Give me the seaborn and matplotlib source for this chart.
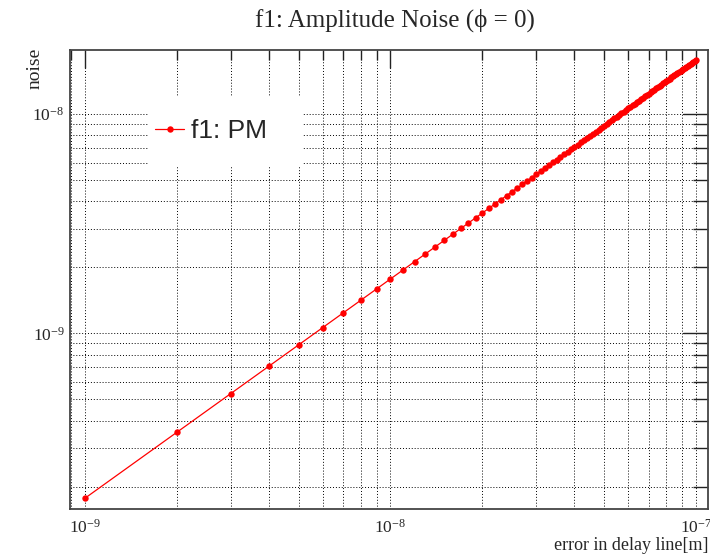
import matplotlib
matplotlib.use("Agg")
import matplotlib.pyplot as plt
import matplotlib.ticker as mticker
from matplotlib.patches import Rectangle
import seaborn as sns
import pandas as pd

# delay-line error (units of 1e-9 m)
x_nm = [1, 2, 3, 4, 5, 6, 7, 8, 9, 10,
        11, 12, 13, 14, 15, 16, 17, 18, 19, 20,
        21, 22, 23, 24, 25, 26, 27, 28, 29, 30,
        31, 32, 33, 34, 35, 36, 37, 38, 39, 40,
        41, 42, 43, 44, 45, 46, 47, 48, 49, 50,
        51, 52, 53, 54, 55, 56, 57, 58, 59, 60,
        61, 62, 63, 64, 65, 66, 67, 68, 69, 70,
        71, 72, 73, 74, 75, 76, 77, 78, 79, 80,
        81, 82, 83, 84, 85, 86, 87, 88, 89, 90,
        91, 92, 93, 94, 95, 96, 97, 98, 99, 100]
# noise (units of 1e-10)
noise_e10 = [1.77, 3.54, 5.31, 7.08, 8.85, 10.62, 12.39, 14.16, 15.93, 17.7,
             19.47, 21.24, 23.01, 24.78, 26.55, 28.32, 30.09, 31.86, 33.63, 35.4,
             37.17, 38.94, 40.71, 42.48, 44.25, 46.02, 47.79, 49.56, 51.33, 53.1,
             54.87, 56.64, 58.41, 60.18, 61.95, 63.72, 65.49, 67.26, 69.03, 70.8,
             72.57, 74.34, 76.11, 77.88, 79.65, 81.42, 83.19, 84.96, 86.73, 88.5,
             90.27, 92.04, 93.81, 95.58, 97.35, 99.12, 100.89, 102.66, 104.43, 106.2,
             107.97, 109.74, 111.51, 113.28, 115.05, 116.82, 118.59, 120.36, 122.13, 123.9,
             125.67, 127.44, 129.21, 130.98, 132.75, 134.52, 136.29, 138.06, 139.83, 141.6,
             143.37, 145.14, 146.91, 148.68, 150.45, 152.22, 153.99, 155.76, 157.53, 159.3,
             161.07, 162.84, 164.61, 166.38, 168.15, 169.92, 171.69, 173.46, 175.23, 177.3]

x_major = [1e-9, 1e-8, 1e-7]
y_major = [1e-9, 1e-8]

title = "f1: Amplitude Noise (\u03d5 = 0)"
xlabel = "error in delay line[m]"
ylabel = "noise"
series_name = "f1: PM"

df = pd.DataFrame({"x": [v * 1e-9 for v in x_nm],
                   "y": [v * 1e-10 for v in noise_e10]})

sns.set_style("white")
plt.rcParams["font.family"] = ["Liberation Serif", "DejaVu Serif"]
plt.rcParams["mathtext.fontset"] = "stix"

fig = plt.figure(figsize=(7.10, 5.57), dpi=100)
ax = fig.add_axes([70 / 710, 1 - 509 / 557, 638 / 710, 459 / 557])

sns.lineplot(data=df, x="x", y="y", ax=ax, color="red", linewidth=0.9,
             marker="o", markersize=4.6, markeredgewidth=0, label=series_name,
             zorder=3)

ax.set_xscale("log")
ax.set_yscale("log")
xlim = (8.93e-10, 1.095e-7)
ylim = (1.58e-10, 1.96e-8)
ax.set_xlim(*xlim)
ax.set_ylim(*ylim)

def minors(lo, hi):
    out = []
    for e in range(-11, -5):
        for m in range(2, 10):
            v = m * 10.0 ** e
            if lo < v < hi:
                out.append(v)
    return out

ax.xaxis.set_major_locator(mticker.FixedLocator(x_major))
ax.xaxis.set_minor_locator(mticker.FixedLocator(minors(*xlim)))
ax.yaxis.set_major_locator(mticker.FixedLocator(y_major))
ax.yaxis.set_minor_locator(mticker.FixedLocator(minors(*ylim)))
ax.xaxis.set_minor_formatter(mticker.NullFormatter())
ax.yaxis.set_minor_formatter(mticker.NullFormatter())
ax.xaxis.set_major_formatter(mticker.LogFormatterSciNotation())
ax.yaxis.set_major_formatter(mticker.LogFormatterSciNotation())

ax.set_axisbelow(True)
ax.grid(True, which="both", linestyle=(0, (1, 2)), color="black", linewidth=0.7)

for s in ax.spines.values():
    s.set_color("#444444")
    s.set_linewidth(1.3)

ax.tick_params(axis="both", which="both", direction="in", top=True, right=True,
               color="#222222", labelsize=12.5)
ax.tick_params(axis="y", which="major", length=18, width=1.0, pad=4)
ax.tick_params(axis="y", which="minor", length=11, width=1.0)
ax.tick_params(axis="x", which="major", length=13, width=1.0, pad=7)
ax.tick_params(axis="x", which="minor", length=7, width=1.0)

ax.set_xlabel("")
ax.set_ylabel("")
fig.text(708 / 710, 1 - 545 / 557, xlabel, ha="right", va="center", fontsize=13)
fig.text(35 / 710, 1 - 68 / 557, ylabel, ha="center", va="center", fontsize=14,
         rotation=90)
fig.text(0.5 + 40 / 710, 1 - 20 / 557, title, ha="center", va="center", fontsize=18,
         family=["Liberation Serif", "DejaVu Serif"])

# legend box (white, borderless)
ax.add_patch(Rectangle(((148 - 70) / 638, (509 - 167) / 459), 155 / 638, 71 / 459,
                       transform=ax.transAxes, facecolor="white", edgecolor="none",
                       zorder=1))
leg = ax.legend(loc="center left", bbox_to_anchor=((155 - 70) / 638, (509 - 131) / 459),
                frameon=False, handlelength=1.1, handletextpad=0.25, borderaxespad=0,
                borderpad=0, prop={"family": "Liberation Sans", "size": 19})

fig.savefig("out.png", dpi=100)
